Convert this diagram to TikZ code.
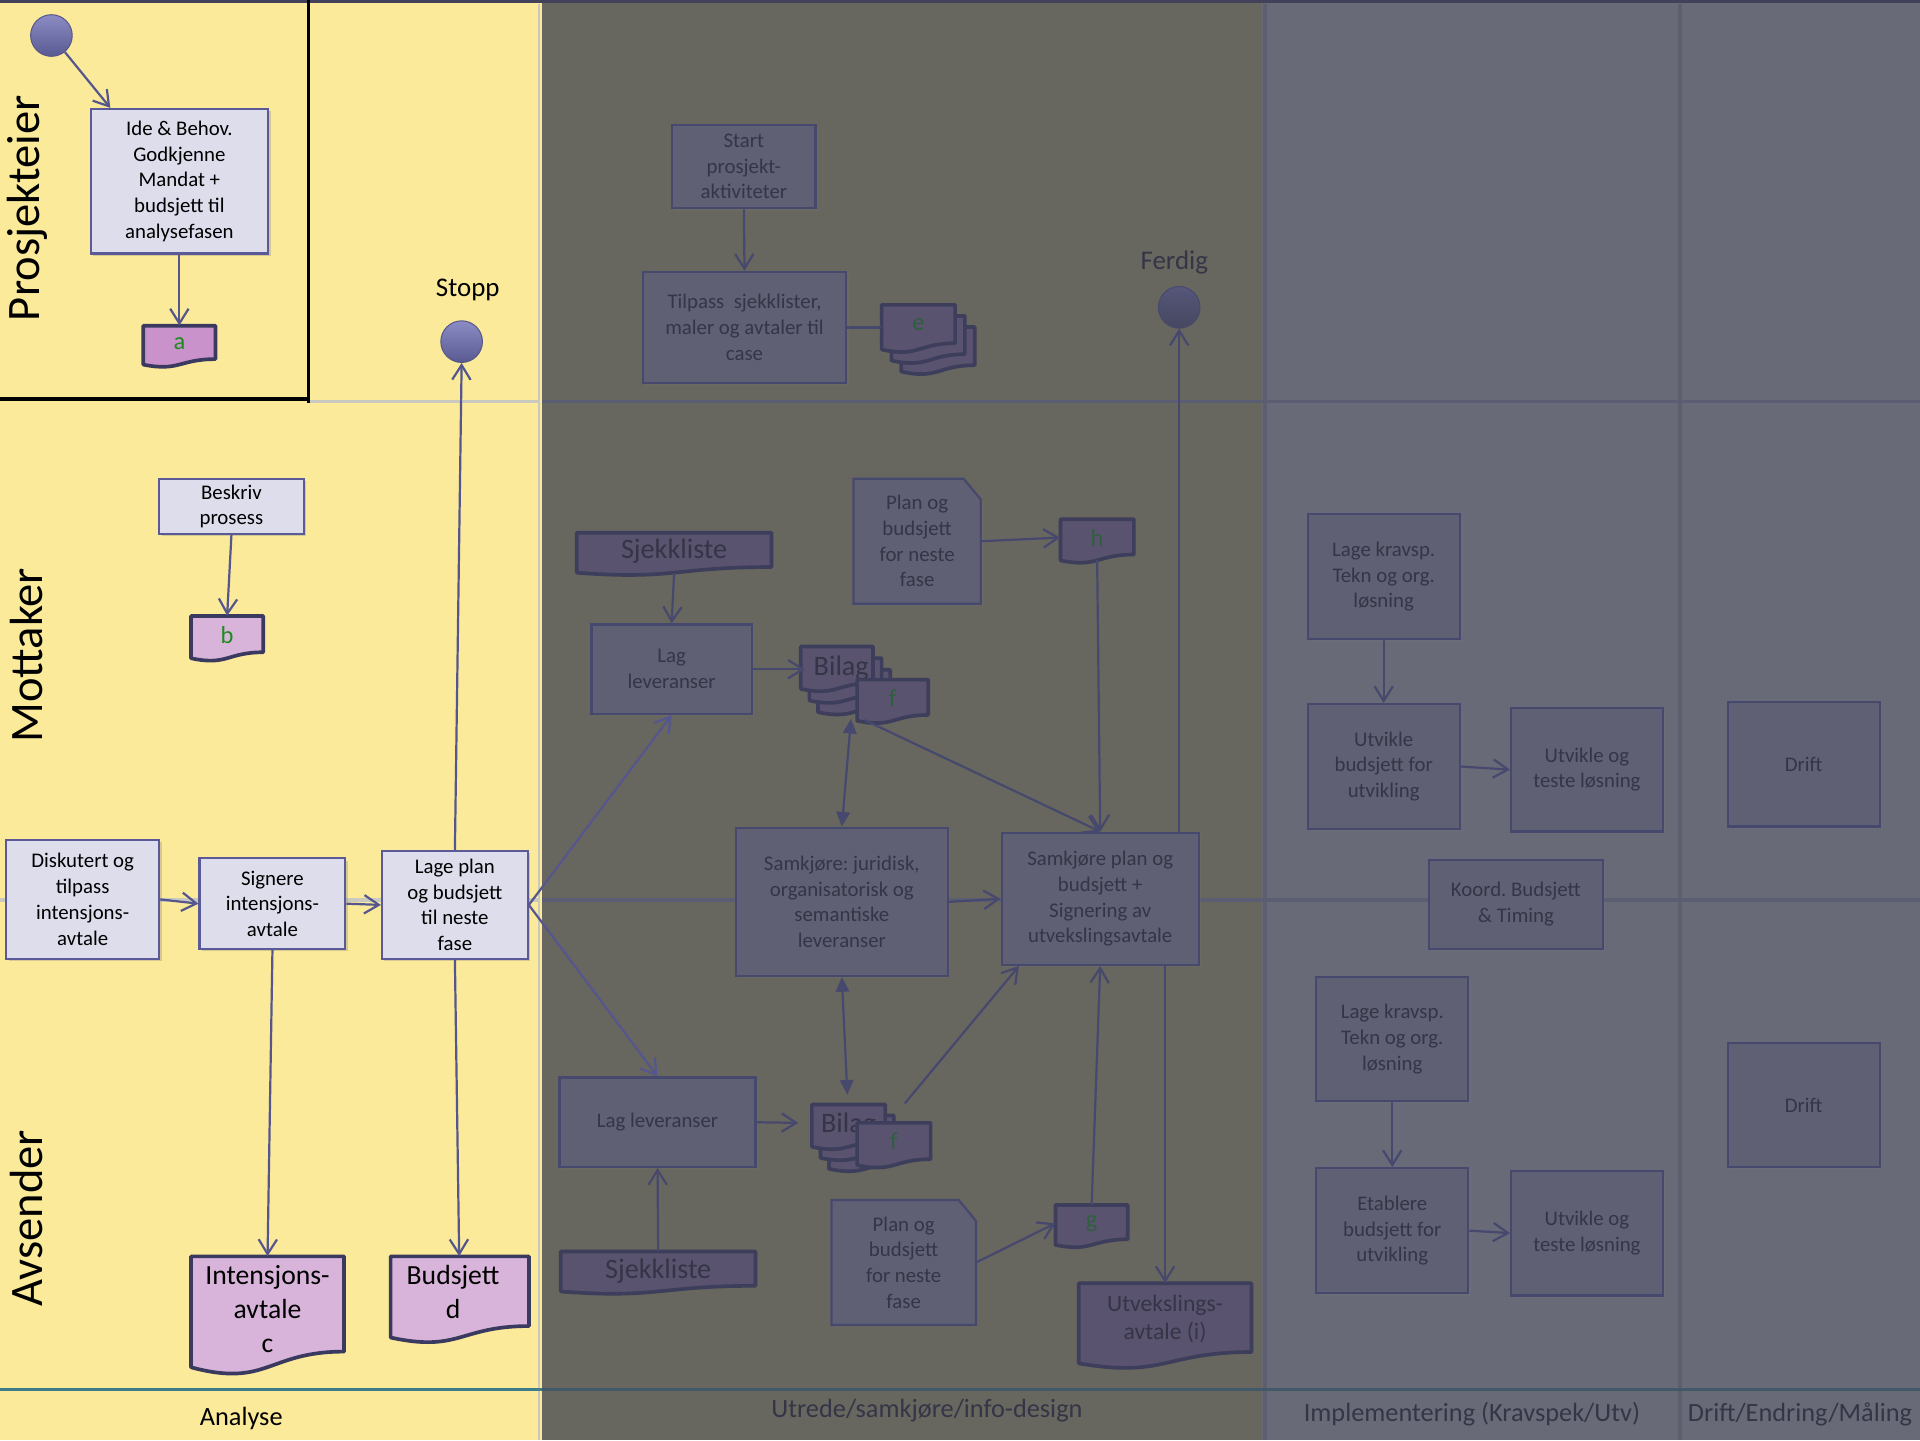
\documentclass[tikz,border=0pt]{standalone}
\usepackage{fontspec}
\setmainfont{Carlito}
\usetikzlibrary{arrows.meta,calc,shadows}
\frenchspacing

% phase backgrounds
\definecolor{yellowbg}{HTML}{FAEA99}
\definecolor{olivebg}{HTML}{67665F}
\definecolor{bluebg}{HTML}{686A78}
% separators
\definecolor{lgrayline}{HTML}{C9C9BF}
\definecolor{dline}{HTML}{5B5D72}
\definecolor{tealline}{HTML}{3D7E8A}
\definecolor{dteal}{HTML}{42596A}
\definecolor{vline}{HTML}{5D5F70}
\definecolor{topbar}{HTML}{41425A}
% activities, light
\definecolor{lfill}{HTML}{DDDDEC}
\definecolor{lborder}{HTML}{5A5A98}
\definecolor{larrow}{HTML}{56568F}
% activities, dimmed
\definecolor{dfill}{HTML}{5F6073}
\definecolor{dborder}{HTML}{47486E}
\definecolor{dtext}{HTML}{343546}
\definecolor{darrow}{HTML}{47486E}
% documents
\definecolor{docLA}{HTML}{C992CA}
\definecolor{docL}{HTML}{D9B4DA}
\definecolor{docLborder}{HTML}{3A3A60}
\definecolor{docD}{HTML}{5A536F}
\definecolor{docDborder}{HTML}{3D3E5B}
\definecolor{greenL}{HTML}{1E8B1E}
\definecolor{greenD}{HTML}{2F5F3E}
% events
\definecolor{circtop}{HTML}{8C8CC4}
\definecolor{circbot}{HTML}{5A5A92}
\definecolor{circedge}{HTML}{55558A}
\definecolor{dcirctop}{HTML}{56577A}
\definecolor{dcircbot}{HTML}{46475F}

% document sheet with a wavy lower edge: style, x1, y1, x2, y2
\newcommand\docsheet[5]{%
  \path[#1] (#2,#3) -- (#4,#3) -- (#4,{#3+0.802*(#5-#3)})
    .. controls ({(#2+#4)/2},{#3+0.802*(#5-#3)}) and ({(#2+#4)/2},{#3+1.107*(#5-#3)})
    .. (#2,{#3+0.934*(#5-#3)}) -- cycle;}
% stack of three sheets: style, x1, y1, x2, y2, dx, dy
\newcommand\multisheet[7]{%
  \docsheet{#1,shift={(2*#6,2*#7)}}{#2}{#3}{#4}{#5}%
  \docsheet{#1,shift={(#6,#7)}}{#2}{#3}{#4}{#5}%
  \docsheet{#1}{#2}{#3}{#4}{#5}}
% page with a cut corner: x1, y1, x2, y2
\newcommand\plansheet[4]{%
  \path[planshape] (#1,#2) -- ({#3-14},#2) -- (#3,{#2+17}) -- (#3,#4) -- (#1,#4) -- cycle;}

\begin{document}
\begin{tikzpicture}[x=1pt,y=-1pt,
  boxbase/.style={draw=lborder, fill=lfill, line width=1.8pt, align=center,
    inner sep=1pt, font=\fontsize{17}{21}\selectfont, text=black},
  lbox/.style={boxbase, drop shadow={opacity=0.3, shadow xshift=2pt, shadow yshift=-2pt}},
  dbox/.style={boxbase, draw=dborder, fill=dfill, text=dtext,
    drop shadow={opacity=0.15, shadow xshift=2pt, shadow yshift=-2pt}},
  planshape/.style={draw=dborder, fill=dfill, line width=1.8pt,
    drop shadow={opacity=0.15, shadow xshift=2pt, shadow yshift=-2pt}},
  plantext/.style={inner sep=0pt, align=center, text=dtext, font=\fontsize{17}{21}\selectfont},
  ldocA/.style={fill=docLA, draw=docLborder, line width=3pt, line join=round},
  ldoc/.style={fill=docL, draw=docLborder, line width=3pt, line join=round},
  ddoc/.style={fill=docD, draw=docDborder, line width=3pt, line join=round},
  doctext/.style={inner sep=0pt, align=center},
  lcirc/.style={circle, minimum size=34pt, inner sep=0pt, top color=circtop,
    bottom color=circbot, draw=circedge, line width=0.8pt},
  dcirc/.style={circle, minimum size=34pt, inner sep=0pt, top color=dcirctop,
    bottom color=dcircbot, draw=dborder, line width=0.8pt},
  lanelabel/.style={rotate=90, font=\fontsize{38}{40}\selectfont, text=black},
  phase/.style={font=\fontsize{21.5}{24}\selectfont, text=dtext},
  larr/.style={draw=larrow, line width=1.8pt, -{Straight Barb[length=12pt,width=15pt]}},
  darr/.style={larr, draw=darrow},
  dline2/.style={draw=darrow, line width=1.8pt},
  dtwo/.style={draw=darrow, line width=1.8pt,
    {Triangle[length=12pt,width=11pt]}-{Triangle[length=12pt,width=11pt]}}
]
\useasboundingbox (0,0) rectangle (1568,1176);

% ---------- phase columns ----------
\fill[yellowbg] (0,0) rectangle (443,1176);
\fill[olivebg] (443,0) rectangle (1031,1176);
\fill[bluebg] (1031,0) rectangle (1568,1176);
\draw[line width=1.5pt, lgrayline] (440,3) -- (440,1176);
\draw[line width=3pt, vline] (1033,3) -- (1033,1176);
\draw[line width=3pt, vline] (1372,3) -- (1372,1176);

% ---------- lane separators ----------
\draw[line width=3pt, lgrayline] (252,328) -- (441,328);
\draw[line width=3pt, lgrayline] (0,735) -- (441,735);
\draw[line width=2.5pt, dline] (443,328) -- (1568,328);
\draw[line width=2.5pt, dline] (443,735) -- (1568,735);
\draw[line width=2.5pt, tealline] (0,1135) -- (443,1135);
\draw[line width=2.5pt, dteal] (443,1135) -- (1568,1135);
\fill[topbar] (0,0) rectangle (1568,2.5);
\draw[line width=3pt, black] (252,0) -- (252,329.5);
\draw[line width=3pt, black] (0,326) -- (251,326);

% ---------- lane and phase labels ----------
\node[lanelabel] (lane-pe) at (22,170) {Prosjekteier};
\node[lanelabel] (lane-mo) at (22,535) {Mottaker};
\node[lanelabel] (lane-av) at (22,995) {Avsender};
\node[phase, text=black] (ph-an) at (197,1158) {Analyse};
\node[phase] (ph-ut) at (757,1152) {Utrede/samkjøre/info-design};
\node[phase] (ph-im) at (1202,1155) {Implementering (Kravspek/Utv)};
\node[phase] (ph-dr) at (1470,1155) {Drift/Endring/Måling};

% ---------- Analyse ----------
\node[lcirc] (start) at (42,29) {};
\node[lbox, minimum width=145pt, minimum height=118pt] (ide) at (146.5,148)
  {Ide \& Behov.\\Godkjenne\\Mandat +\\budsjett til\\analysefasen};
\docsheet{ldocA}{117}{266}{176}{300}
\node[doctext, text=greenL, font=\fontsize{20}{24}\selectfont,
  minimum width=59pt, minimum height=30pt] (a) at (146.5,281) {a};

\node[lcirc] (stopp) at (377,279) {};
\node[font=\fontsize{22}{24}\selectfont, text=black] (stopp-lbl) at (382,237) {Stopp};

\node[lbox, minimum width=118pt, minimum height=45pt] (beskriv) at (189,413.5)
  {Beskriv\\prosess};
\docsheet{ldoc}{156}{503}{215}{540}
\node[doctext, text=greenL, font=\fontsize{20}{24}\selectfont,
  minimum width=59pt, minimum height=32pt] (b) at (185.5,519) {b};

\node[lbox, minimum width=125pt, minimum height=97pt] (disk) at (67.5,734.5)
  {Diskutert og\\tilpass\\intensjons-\\avtale};
\node[lbox, minimum width=119pt, minimum height=74pt] (sign) at (222.5,738)
  {Signere\\intensjons-\\avtale};
\node[lbox, minimum width=119pt, minimum height=88pt] (lage) at (371.5,739)
  {Lage plan\\og budsjett\\til neste\\fase};

\docsheet{ldoc}{156}{1026}{281}{1123}
\node[doctext, text=black, font=\fontsize{22.6}{28}\selectfont,
  minimum width=125pt, minimum height=86pt] (c) at (218.5,1069) {Intensjons-\\avtale\\c};
\docsheet{ldoc}{319}{1026}{432}{1097}
\node[doctext, text=black, font=\fontsize{22.6}{28}\selectfont,
  minimum width=100pt, minimum height=58pt] (d) at (370,1055) {Budsjett\\d};

% ---------- Utrede/samkjøre/info-design ----------
\node[dbox, minimum width=117pt, minimum height=68pt] (startp) at (607.5,136)
  {Start\\prosjekt-\\aktiviteter};
\node[dbox, minimum width=166pt, minimum height=91pt] (tilpass) at (608,267.5)
  {Tilpass~ sjekklister,\\maler og avtaler til\\case};
\multisheet{ddoc}{720}{249}{780}{288}{8}{9}
\node[doctext, text=greenD, font=\fontsize{20}{24}\selectfont,
  minimum width=60pt, minimum height=32pt] (e) at (750,265) {e};

\node[dcirc] (ferdig) at (963,251) {};
\node[font=\fontsize{22}{24}\selectfont, text=dtext] (ferdig-lbl) at (959,214) {Ferdig};

\docsheet{ddoc}{471}{435}{630}{470}
\node[doctext, text=dtext, font=\fontsize{23}{26}\selectfont,
  minimum width=159pt, minimum height=30pt] (sj1) at (550.5,450) {Sjekkliste};
\node[dbox, minimum width=131pt, minimum height=73pt] (lev1) at (548.5,546.5)
  {Lag\\leveranser};
\multisheet{ddoc}{654}{528}{713}{565}{7}{9.5}
\node[doctext, text=dtext, font=\fontsize{23}{26}\selectfont,
  minimum width=59pt, minimum height=36pt] (bilag1) at (687,546) {Bilag};
\docsheet{ddoc}{700}{555}{758}{591}
\node[doctext, text=greenD, font=\fontsize{20}{24}\selectfont,
  minimum width=58pt, minimum height=30pt] (f1) at (729,570) {f};

\plansheet{697}{391}{801}{493}
\node[plantext, minimum width=104pt, minimum height=102pt] (plan1) at (749,442)
  {Plan og\\budsjett\\for neste\\fase};
\docsheet{ddoc}{866}{424}{926}{460}
\node[doctext, text=greenD, font=\fontsize{20}{24}\selectfont,
  minimum width=60pt, minimum height=30pt] (h) at (896,439) {h};

\node[dbox, minimum width=173pt, minimum height=121pt] (samjur) at (687.5,736.5)
  {Samkjøre: juridisk,\\organisatorisk og\\semantiske\\leveranser};
\node[dbox, minimum width=161pt, minimum height=108pt] (samplan) at (898.5,734)
  {Samkjøre plan og\\budsjett +\\Signering av\\utvekslingsavtale};

\node[dbox, minimum width=160pt, minimum height=73pt] (lev2) at (537,916.5)
  {Lag leveranser};
\multisheet{ddoc}{663}{902}{723}{939}{7}{9}
\node[doctext, text=dtext, font=\fontsize{23}{26}\selectfont,
  minimum width=60pt, minimum height=34pt] (bilag2) at (693,919) {Bilag};
\docsheet{ddoc}{700}{917}{760}{954}
\node[doctext, text=greenD, font=\fontsize{20}{24}\selectfont,
  minimum width=60pt, minimum height=30pt] (f2) at (730,932) {f};

\docsheet{ddoc}{458}{1022}{617}{1057}
\node[doctext, text=dtext, font=\fontsize{23}{26}\selectfont,
  minimum width=159pt, minimum height=32pt] (sj2) at (537.5,1038) {Sjekkliste};
\plansheet{679}{980}{797}{1082}
\node[plantext, minimum width=118pt, minimum height=102pt] (plan2) at (738,1031)
  {Plan og\\budsjett\\for neste\\fase};
\docsheet{ddoc}{862}{984}{921}{1019}
\node[doctext, text=greenD, font=\fontsize{20}{24}\selectfont,
  minimum width=59pt, minimum height=30pt] (g) at (891.5,999) {g};
\docsheet{ddoc}{881}{1048}{1022}{1118}
\node[doctext, text=dtext, font=\fontsize{19.3}{23}\selectfont,
  minimum width=141pt, minimum height=58pt] (utv) at (951.5,1077) {Utvekslings-\\avtale (i)};

% free ends of connectors at the document stacks
\coordinate (bilag1-foot) at (695,587);
\coordinate (f1-foot) at (706,588);
\coordinate (bilag2-top) at (692,894);
\coordinate (bilag2-in) at (652,917);
\coordinate (bilag2-ne) at (739,901);

% ---------- Implementering ----------
\node[dbox, minimum width=124pt, minimum height=102pt] (krav1) at (1130,471)
  {Lage kravsp.\\Tekn og org.\\løsning};
\node[dbox, minimum width=124pt, minimum height=102pt] (utvb) at (1130,626)
  {Utvikle\\budsjett for\\utvikling};
\node[dbox, minimum width=124pt, minimum height=101pt] (test1) at (1296,628.5)
  {Utvikle og\\teste løsning};
\node[dbox, minimum width=142pt, minimum height=73pt] (koord) at (1238,738.5)
  {Koord. Budsjett\\\& Timing};
\node[dbox, minimum width=124pt, minimum height=101pt] (krav2) at (1137,848.5)
  {Lage kravsp.\\Tekn og org.\\løsning};
\node[dbox, minimum width=124pt, minimum height=102pt] (etab) at (1137,1005)
  {Etablere\\budsjett for\\utvikling};
\node[dbox, minimum width=124pt, minimum height=102pt] (test2) at (1296,1007)
  {Utvikle og\\teste løsning};

% ---------- Drift ----------
\node[dbox, minimum width=124pt, minimum height=102pt] (drift1) at (1473,624) {Drift};
\node[dbox, minimum width=124pt, minimum height=101pt] (drift2) at (1473,902.5) {Drift};

% ---------- connectors, Analyse ----------
\draw[larr] (start) -- ([xshift=17pt]ide.north west);
\draw[larr] (ide.south) -- (a.north);
\draw[larr] (beskriv.south) -- (b.north);
\draw[larr] (disk.east) -- (sign.west);
\draw[larr] (sign.east) -- (lage.west);
\draw[larr] (lage.north) -- (stopp.south);
\draw[larr] (sign.south) -- (c.north);
\draw[larr] (lage.south) -- ([xshift=5pt]d.north);
\draw[larr] (lage.east) -- (lev1.south);
\draw[larr] (lage.east) -- (lev2.north);

% ---------- connectors, Utrede ----------
\draw[darr] (startp.south) -- (tilpass.north);
\draw[dline2] (tilpass.east) -- (tilpass.east -| e.west);
\draw[darr] (ferdig |- samplan.north) -- (ferdig.south);
\draw[darr] ([yshift=-3pt]sj1.south) -- (lev1.north);
\draw[darr] (lev1.east) -- (lev1.east -| bilag1.west);
\draw[darr] (plan1.east) -- (h.west);
\draw[darr] ([yshift=-3pt]h.south) -- (samplan.north);
\draw[darr] (f1-foot) -- (samplan.north);
\draw[dtwo] (samjur.north) -- (bilag1-foot);
\draw[darr] (samjur.east) -- (samplan.west);
\draw[darr] (lev2.east) -- (bilag2-in);
\draw[dtwo] (samjur.south) -- (bilag2-top);
\draw[darr] (bilag2-ne) -- ([xshift=15pt]samplan.south west);
\draw[darr] (sj2.north) -- (lev2.south);
\draw[darr] (plan2.east) -- (g.west);
\draw[darr] (g.north) -- (samplan.south);
\draw[darr] (utv |- samplan.south) -- (utv.north);

% ---------- connectors, Implementering ----------
\draw[darr] (krav1.south) -- (utvb.north);
\draw[darr] (utvb.east) -- (test1.west);
\draw[darr] (krav2.south) -- (etab.north);
\draw[darr] (etab.east) -- (test2.west);
\end{tikzpicture}
\end{document}
